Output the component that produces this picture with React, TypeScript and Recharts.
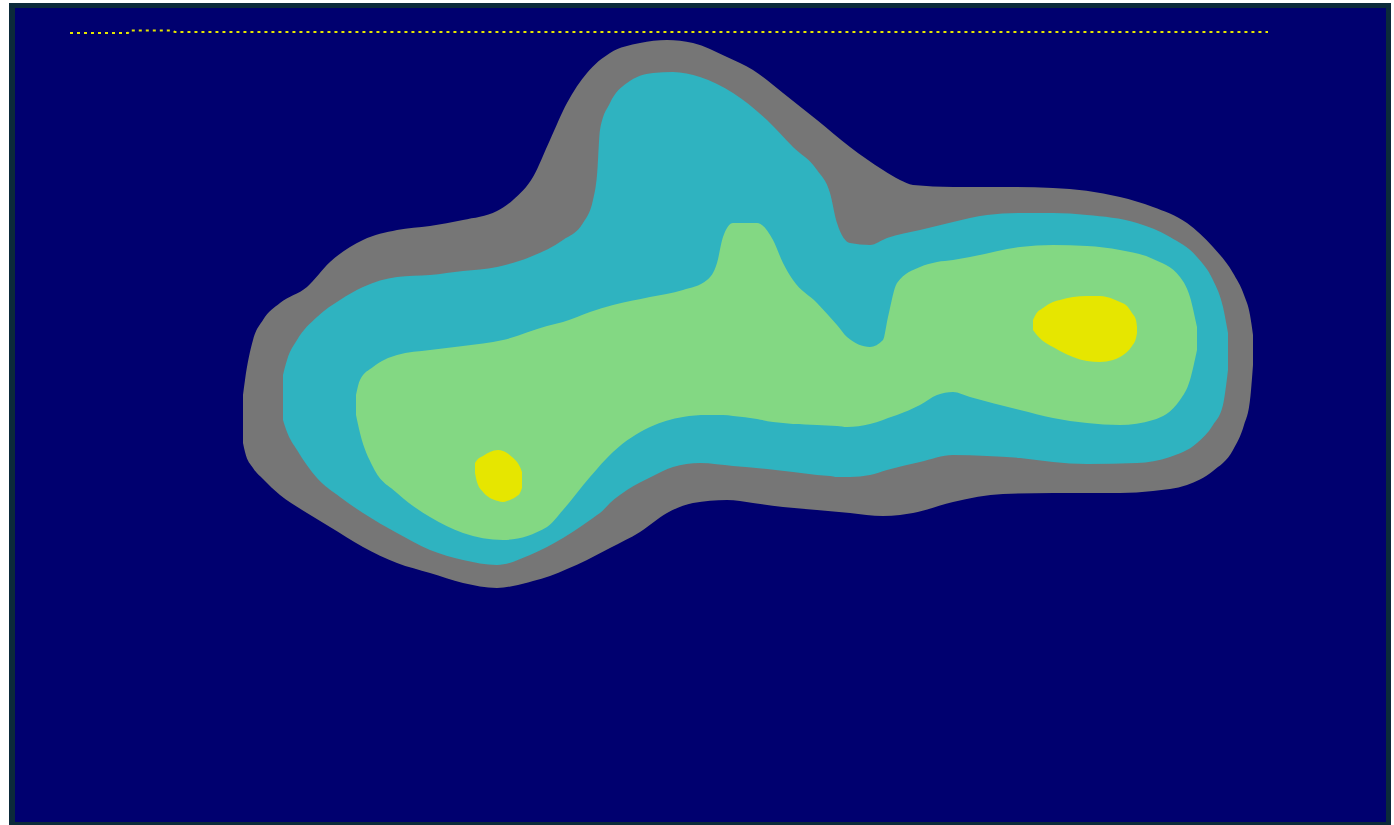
import React from "react";
import { ComposedChart, Area, Line, XAxis, YAxis } from "recharts";

// Contour levels (x, lower edge, upper edge), coordinates in plot units (y grows downward)
const grayX = [243, 245, 253, 263, 280, 307, 330, 363, 397, 430, 463, 497, 513, 533, 550, 567, 587, 610, 640, 667, 693, 727, 753, 783, 817, 850, 883, 900, 913, 953, 1003, 1053, 1120, 1153, 1187, 1213, 1233, 1244, 1250, 1253];
const grayTop = [395, 380, 340, 320, 303, 287, 262, 240, 230, 226, 220, 211, 200, 177, 140, 103, 73, 53, 43, 40, 43, 57, 70, 93, 120, 147, 170, 180, 185, 187, 187, 188, 197, 207, 223, 247, 273, 295, 315, 335];
const grayBottom = [443, 452, 468, 479, 495, 513, 527, 547, 563, 573, 583, 588, 586, 581, 576, 569, 560, 548, 532, 513, 503, 500, 503, 507, 510, 513, 516, 515, 513, 502, 494, 493, 493, 491, 485, 471, 450, 425, 400, 365];

const cyanX = [283, 287, 297, 317, 340, 363, 397, 430, 463, 497, 530, 563, 583, 593, 597, 600, 610, 627, 653, 673, 700, 733, 767, 793, 817, 830, 837, 850, 870, 887, 920, 953, 987, 1020, 1053, 1087, 1137, 1170, 1197, 1213, 1223, 1228];
const cyanTop = [375, 360, 340, 317, 300, 287, 277, 275, 271, 267, 257, 240, 223, 200, 175, 130, 103, 83, 73, 72, 77, 93, 120, 147, 170, 193, 223, 243, 245, 238, 230, 222, 215, 213, 213, 215, 223, 237, 257, 280, 307, 333];
const cyanBottom = [420, 432, 450, 478, 497, 513, 533, 550, 560, 565, 555, 538, 525, 518, 515, 513, 503, 490, 476, 467, 463, 466, 469, 472, 475, 476, 477, 477, 475, 470, 462, 455, 456, 458, 462, 464, 463, 457, 443, 425, 405, 370];

const greenX = [356, 360, 373, 397, 430, 463, 503, 547, 563, 590, 613, 650, 683, 707, 717, 723, 733, 757, 773, 783, 793, 817, 837, 847, 870, 883, 888, 897, 920, 937, 953, 970, 1020, 1053, 1087, 1120, 1153, 1180, 1190, 1197];
const greenTop = [395, 380, 367, 355, 350, 346, 340, 326, 322, 312, 305, 297, 290, 280, 263, 237, 223, 223, 240, 263, 280, 303, 325, 337, 347, 340, 317, 283, 267, 262, 260, 257, 247, 245, 246, 250, 259, 277, 297, 327];
const greenBottom = [415, 433, 467, 493, 517, 533, 540, 527, 510, 477, 452, 427, 417, 415, 415, 415, 416, 419, 422, 423, 424, 425, 426, 427, 424, 420, 418, 415, 405, 395, 392, 397, 410, 418, 423, 425, 420, 400, 380, 350];

const yellowAX = [475, 477, 483, 490, 498, 503, 507, 512, 517, 520, 522];
const yellowATop = [463, 460, 456, 452, 450, 451, 453, 457, 462, 467, 472];
const yellowABottom = [473, 482, 492, 498, 501, 502, 501, 499, 496, 493, 488];

const yellowBX = [1033, 1036, 1043, 1053, 1060, 1073, 1087, 1100, 1113, 1120, 1127, 1132, 1136, 1137];
const yellowBTop = [320, 314, 308, 302, 300, 297, 296, 296, 299, 302, 306, 313, 320, 327];
const yellowBBottom = [330, 334, 341, 347, 351, 357, 361, 362, 360, 357, 352, 346, 338, 333];

// Dotted trace along the top
const traceX = [70, 128, 130, 172, 175, 1268];
const traceY = [33, 33, 30.5, 30.5, 32, 32];

const band = (xs: number[], lo: number[], hi: number[]) =>
  xs.map((x, i) => ({ x, r: [lo[i], hi[i]] }));

const grayData = band(grayX, grayTop, grayBottom);
const cyanData = band(cyanX, cyanTop, cyanBottom);
const greenData = band(greenX, greenTop, greenBottom);
const yellowAData = band(yellowAX, yellowATop, yellowABottom);
const yellowBData = band(yellowBX, yellowBTop, yellowBBottom);
const traceData = traceX.map((x, i) => ({ x, y: traceY[i] }));

const NAVY = "#00006f";
const GRAY = "#767676";
const CYAN = "#2fb3c0";
const GREEN = "#83d883";
const YELLOW = "#e6e600";

export default function App() {
  return (
    <div
      style={{
        position: "absolute",
        left: 9,
        top: 3,
        width: 1382,
        height: 822,
        background: "#0b2a3a",
      }}
    >
      <div
        style={{
          position: "absolute",
          left: 6,
          top: 5,
          width: 1371,
          height: 814,
          background: NAVY,
        }}
      >
        <ComposedChart
          width={1371}
          height={814}
          margin={{ top: 0, right: 0, bottom: 0, left: 0 }}
        >
          <XAxis
            type="number"
            dataKey="x"
            domain={[15, 1386]}
            allowDataOverflow
            hide
          />
          <YAxis type="number" domain={[8, 822]} reversed allowDataOverflow hide />
          <Area
            data={grayData}
            dataKey="r"
            type="monotone"
            fill={GRAY}
            fillOpacity={1}
            stroke="none"
            isAnimationActive={false}
          />
          <Area
            data={cyanData}
            dataKey="r"
            type="monotone"
            fill={CYAN}
            fillOpacity={1}
            stroke="none"
            isAnimationActive={false}
          />
          <Area
            data={greenData}
            dataKey="r"
            type="monotone"
            fill={GREEN}
            fillOpacity={1}
            stroke="none"
            isAnimationActive={false}
          />
          <Area
            data={yellowAData}
            dataKey="r"
            type="monotone"
            fill={YELLOW}
            fillOpacity={1}
            stroke="none"
            isAnimationActive={false}
          />
          <Area
            data={yellowBData}
            dataKey="r"
            type="monotone"
            fill={YELLOW}
            fillOpacity={1}
            stroke="none"
            isAnimationActive={false}
          />
          <Line
            data={traceData}
            dataKey="y"
            type="linear"
            stroke={YELLOW}
            strokeWidth={2}
            strokeDasharray="3 4"
            dot={false}
            activeDot={false}
            isAnimationActive={false}
          />
        </ComposedChart>
      </div>
    </div>
  );
}
